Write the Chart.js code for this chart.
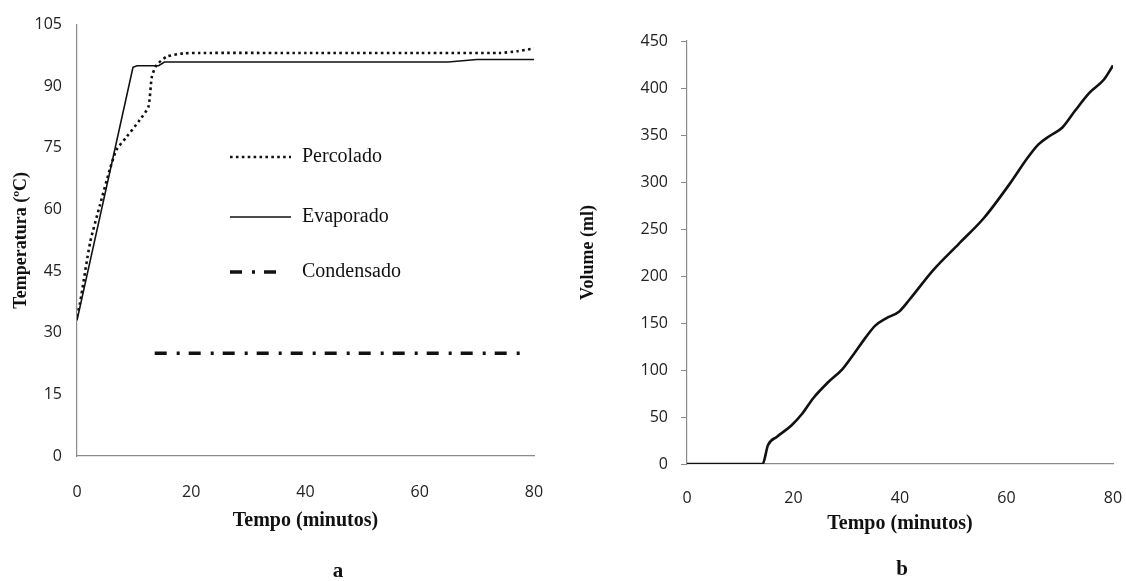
<!DOCTYPE html>
<html>
<head>
<meta charset="utf-8">
<script src="https://cdn.jsdelivr.net/npm/chart.js@4.4.1/dist/chart.umd.min.js"></script>
<style>
    body { margin: 0; background: #fff; }
    .panel { position: absolute; top: 0; width: 563px; height: 581px; }
    .tag {
        position: absolute;
        font: bold 21px "Liberation Serif", serif;
        color: #111;
        transform: translate(-50%, -50%);
    }
</style>
</head>
<body>
<div class="panel" style="left:0"><canvas id="tempChart" width="563" height="581"></canvas></div>
<div class="panel" style="left:563px"><canvas id="volChart" width="563" height="581"></canvas></div>
<div class="tag" style="left:338px; top:570px">a</div>
<div class="tag" style="left:902px; top:568px">b</div>
<script>
// Chart a: temperatura vs tempo
const percoladoTime = [0, 0.5, 2.3, 4, 5.8, 6.9, 8.7, 11, 12.5, 13.1, 13.9, 15.7, 18.6, 21.5, 40, 60, 74, 77, 80];
const percoladoTemp = [34, 37, 52, 61, 70, 74.5, 77.7, 81.8, 85, 92.3, 95.1, 97.2, 98, 98.1, 98.1, 98.1, 98.1, 98.5, 99.2];
const evaporadoTime = [0, 9.8, 10.5, 14.3, 15.3, 40, 65, 70, 80];
const evaporadoTemp = [33, 94.6, 95, 95, 95.9, 95.9, 95.9, 96.5, 96.5];
const condensadoTime = [13.6, 78.6];
const condensadoTemp = [25, 25];
const seriesNames = ["Percolado", "Evaporado", "Condensado"];
const tempTicks = [0, 15, 30, 45, 60, 75, 90, 105];

// Chart b: volume vs tempo
const volumeTime = [0, 14.2, 15.2, 16.9, 19.6, 21.7, 23.7, 26.5, 29.2, 31.2, 33.6, 35.3, 37.4, 39.8, 41.8,
    46.2, 51, 55.8, 60.6, 64, 66, 68.1, 70.5, 72.9, 75.6, 78.3, 80];
const volumeMl = [0, 0, 20, 29, 41, 54, 70, 87, 101, 116, 135, 147, 155, 162, 175,
    206, 234, 262, 298, 326, 340, 349, 358, 376, 395, 409, 424];
const volumeTicks = [0, 50, 100, 150, 200, 250, 300, 350, 400, 450];
const timeTicks = [0, 20, 40, 60, 80];

const axisGray = "#8a8a8a";
const tickFont = { family: "Open Sans", size: 16 };
const xTitleFont = { family: "Liberation Serif", size: 20, weight: "bold" };
const yTitleFont = { family: "Liberation Serif", size: 18, weight: "bold" };

function pairs(xs, ys) {
    return xs.map((x, i) => ({ x: x, y: ys[i] }));
}

// legend drawn inside the plot, like the original figure
const insideLegend = {
    id: "insideLegend",
    afterDatasetsDraw(chart) {
        const ctx = chart.ctx;
        const rows = [157, 217, 272];
        ctx.save();
        chart.data.datasets.forEach((ds, i) => {
            ctx.beginPath();
            ctx.strokeStyle = ds.borderColor;
            ctx.lineWidth = ds.borderWidth;
            ctx.setLineDash(ds.borderDash || []);
            ctx.moveTo(230, rows[i]);
            ctx.lineTo(i === 2 ? 280 : 291, rows[i]);
            ctx.stroke();
            ctx.setLineDash([]);
            ctx.fillStyle = "#111";
            ctx.font = '20px "Liberation Serif"';
            ctx.textBaseline = "middle";
            ctx.fillText(ds.label, 302, rows[i]);
        });
        ctx.restore();
    }
};

new Chart(document.getElementById("tempChart"), {
    type: "line",
    data: {
        datasets: [
            {
                label: seriesNames[0],
                data: pairs(percoladoTime, percoladoTemp),
                borderColor: "#111",
                borderWidth: 2.6,
                borderDash: [2.6, 3.3],
                tension: 0.2,
                pointRadius: 0,
            },
            {
                label: seriesNames[1],
                data: pairs(evaporadoTime, evaporadoTemp),
                borderColor: "#111",
                borderWidth: 1.6,
                tension: 0,
                pointRadius: 0,
            },
            {
                label: seriesNames[2],
                data: pairs(condensadoTime, condensadoTemp),
                borderColor: "#111",
                borderWidth: 3.5,
                borderDash: [12, 10, 3, 9],
                pointRadius: 0,
            },
        ],
    },
    options: {
        responsive: false,
        animation: false,
        layout: { padding: { top: 24, right: 29, bottom: 45, left: 0 } },
        plugins: { legend: { display: false }, tooltip: { enabled: false } },
        scales: {
            x: {
                type: "linear",
                min: 0,
                max: 80,
                afterBuildTicks: (s) => { s.ticks = timeTicks.map((v) => ({ value: v })); },
                afterFit: (s) => { s.height = 80; },
                grid: { display: false, drawTicks: true, tickLength: 27 },
                border: { display: true, color: axisGray, width: 1.2 },
                ticks: { font: tickFont, color: "#222", padding: 0 },
                title: { display: true, text: "Tempo (minutos)", font: xTitleFont, color: "#111", padding: { top: 0, bottom: 3 } },
            },
            y: {
                min: 0,
                max: 105,
                afterBuildTicks: (s) => { s.ticks = tempTicks.map((v) => ({ value: v })); },
                afterFit: (s) => { s.width = 77; },
                grid: { display: false, drawTicks: false },
                border: { display: true, color: axisGray, width: 1.2 },
                ticks: { font: tickFont, color: "#222", padding: 15 },
                title: { display: true, text: "Temperatura (ºC)", font: yTitleFont, color: "#111", padding: { top: 11, bottom: 0 } },
            },
        },
    },
    plugins: [insideLegend],
});

new Chart(document.getElementById("volChart"), {
    type: "line",
    data: {
        datasets: [
            {
                label: "Volume",
                data: pairs(volumeTime, volumeMl),
                borderColor: "#111",
                borderWidth: 2.6,
                cubicInterpolationMode: "monotone",
                pointRadius: 0,
            },
        ],
    },
    options: {
        responsive: false,
        animation: false,
        layout: { padding: { top: 41, right: 13, bottom: 37, left: 0 } },
        plugins: { legend: { display: false }, tooltip: { enabled: false } },
        scales: {
            x: {
                type: "linear",
                min: 0,
                max: 80,
                afterBuildTicks: (s) => { s.ticks = timeTicks.map((v) => ({ value: v })); },
                afterFit: (s) => { s.height = 80; },
                grid: { display: false, drawTicks: true, tickLength: 25 },
                border: { display: true, color: axisGray, width: 1.2 },
                ticks: { font: tickFont, color: "#222", padding: 0 },
                title: { display: true, text: "Tempo (minutos)", font: xTitleFont, color: "#111", padding: { top: 0, bottom: 8 } },
            },
            y: {
                min: 0,
                max: 450,
                afterBuildTicks: (s) => { s.ticks = volumeTicks.map((v) => ({ value: v })); },
                afterFit: (s) => { s.width = 124; },
                grid: { display: true, drawOnChartArea: false, drawTicks: true, tickLength: 6, color: axisGray },
                border: { display: true, color: axisGray, width: 1.2 },
                ticks: { font: tickFont, color: "#222", padding: 13 },
                title: { display: true, text: "Volume (ml)", font: yTitleFont, color: "#111", padding: { top: 15, bottom: 0 } },
            },
        },
    },
});
</script>
</body>
</html>
